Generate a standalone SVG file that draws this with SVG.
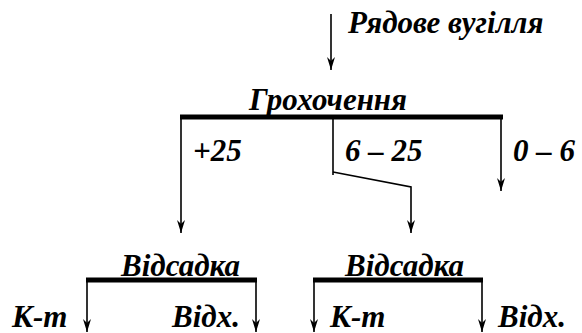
<svg xmlns="http://www.w3.org/2000/svg" width="582" height="333" viewBox="0 0 582 333" font-family="'Liberation Serif', 'Times New Roman', serif" font-weight="bold" font-style="italic" font-size="31">
<defs>
<marker id="ah" markerWidth="13" markerHeight="8" viewBox="0 0 13 8" refX="13" refY="4" orient="auto" markerUnits="userSpaceOnUse">
<path d="M0,0 L4,4 L0,8 L13,4 Z" fill="#000"/>
</marker>
<style>
.bar{stroke:#000;stroke-width:5;fill:none}
.ln{stroke:#000;stroke-width:1.6;fill:none}
</style>
</defs>
<rect width="582" height="333" fill="#fff"/>
<g id="connectors">
<line class="ln" x1="331" y1="14" x2="331" y2="70" marker-end="url(#ah)"/>
<line class="ln" x1="181" y1="117" x2="181" y2="233" marker-end="url(#ah)"/>
<polyline class="ln" points="333,117 333,175"/>
<polyline class="ln" points="333,172 411,187 411,233" marker-end="url(#ah)"/>
<line class="ln" x1="501" y1="117" x2="501" y2="191" marker-end="url(#ah)"/>
<line class="ln" x1="87" y1="280" x2="87" y2="332" marker-end="url(#ah)"/>
<line class="ln" x1="256" y1="280" x2="256" y2="332" marker-end="url(#ah)"/>
<line class="ln" x1="314" y1="280" x2="314" y2="332" marker-end="url(#ah)"/>
<line class="ln" x1="482" y1="280" x2="482" y2="332" marker-end="url(#ah)"/>
</g>
<g id="input"><text x="348" y="33">Рядове вугілля</text></g>
<g id="screening">
<line class="bar" x1="180" y1="117" x2="503" y2="117"/>
<text x="328" y="110" text-anchor="middle">Грохочення</text>
</g>
<g id="labels">
<text x="193" y="161">+25</text>
<text x="345" y="161">6 – 25</text>
<text x="513" y="161">0 – 6</text>
</g>
<g id="jig1">
<line class="bar" x1="86" y1="280" x2="257" y2="280"/>
<text x="121" y="276">Відсадка</text>
<text x="12" y="327">К-т</text>
<text x="172" y="327">Відх.</text>
</g>
<g id="jig2">
<line class="bar" x1="313" y1="280" x2="483" y2="280"/>
<text x="345" y="276">Відсадка</text>
<text x="330" y="327">К-т</text>
<text x="498" y="327">Відх.</text>
</g>
</svg>
